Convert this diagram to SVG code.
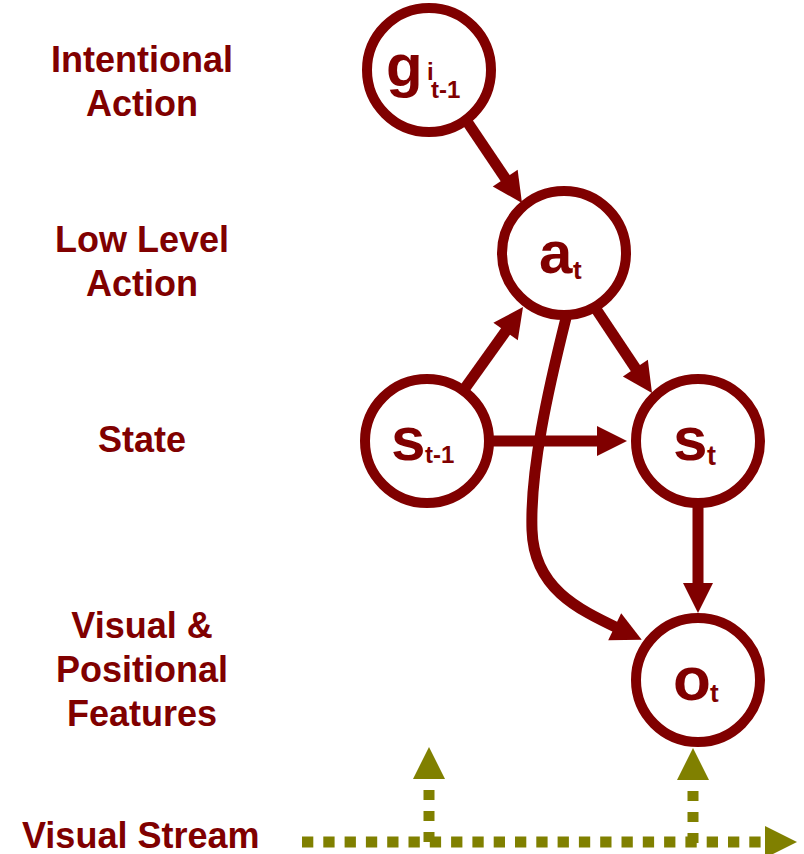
<svg xmlns="http://www.w3.org/2000/svg" width="804" height="854" viewBox="0 0 804 854">
  <defs>
    <style>
      .txt { font-family: "Liberation Sans", Arial, sans-serif; font-weight: bold; fill: #800000; }
      .lbl { font-size: 36px; text-anchor: middle; }
      .node circle { fill: #ffffff; stroke: #800000; stroke-width: 10; }
      .edge { fill: none; stroke: #800000; stroke-width: 11; marker-end: url(#head); }
      .stream { fill: none; stroke: #808000; stroke-width: 11; marker-end: url(#ohead); }
    </style>
    <!-- solid maroon arrowhead; refX sits 10px behind the base so the shaft ends inside it -->
    <marker id="head" markerUnits="userSpaceOnUse" markerWidth="32" markerHeight="32" refX="10" refY="15" orient="auto" overflow="visible">
      <path d="M0,0 L30,15 L0,30 Z" fill="#800000"/>
    </marker>
    <!-- olive arrowhead for the dotted stream lines -->
    <marker id="ohead" markerUnits="userSpaceOnUse" markerWidth="34" markerHeight="34" refX="0" refY="16" orient="auto" overflow="visible">
      <path d="M0,0 L32,16 L0,32 Z" fill="#808000"/>
    </marker>
  </defs>

  <rect width="804" height="854" fill="#ffffff"/>

  <!-- row labels -->
  <g id="labels" class="txt lbl">
    <text x="142" y="72">Intentional</text>
    <text x="142" y="116">Action</text>
    <text x="142" y="252">Low Level</text>
    <text x="142" y="296">Action</text>
    <text x="142" y="452">State</text>
    <text x="142" y="638">Visual &amp;</text>
    <text x="142" y="682">Positional</text>
    <text x="142" y="726">Features</text>
  </g>
  <text id="stream-label" class="txt" x="22" y="848" font-size="36">Visual Stream</text>

  <!-- dependencies between variables -->
  <g id="connectors">
    <path class="edge" d="M466,120 L510.8,186.4"/>
    <path class="edge" d="M463,391 L511.4,323.3"/>
    <path class="edge" d="M596,309 L640.9,376.4"/>
    <path class="edge" d="M489,441 L607,441"/>
    <path class="edge" d="M698,503 L698,593"/>
    <path class="edge" d="M566,318 C548,390 530,470 532,530 C534,590 580,610 623.7,631"/>
  </g>

  <!-- visual stream feeding the observations -->
  <g id="visual-stream">
    <path class="stream" d="M302,842 H765" stroke-dasharray="11.3 10"/>
    <path class="stream" d="M429,842 V779" stroke-dasharray="10 11"/>
    <path class="stream" d="M693,843 V780" stroke-dasharray="10 11"/>
  </g>

  <g id="node-g" class="node">
    <circle cx="429" cy="70" r="62"/>
    <text class="txt" x="386" y="86" font-size="60">g</text>
    <text class="txt" x="427" y="80" font-size="24">i</text>
    <text class="txt" x="431" y="98" font-size="24">t-1</text>
  </g>

  <g id="node-a" class="node">
    <circle cx="564" cy="253" r="62"/>
    <text class="txt" x="539" y="273" font-size="60">a</text>
    <text class="txt" x="573" y="279" font-size="26">t</text>
  </g>

  <g id="node-s-prev" class="node">
    <circle cx="427" cy="441" r="62"/>
    <text class="txt" x="391" y="460" font-size="62">s</text>
    <text class="txt" x="425" y="463" font-size="24">t-1</text>
  </g>

  <g id="node-s" class="node">
    <circle cx="698" cy="441" r="62"/>
    <text class="txt" x="673" y="460" font-size="62">s</text>
    <text class="txt" x="707" y="465" font-size="27">t</text>
  </g>

  <g id="node-o" class="node">
    <circle cx="698" cy="680" r="62"/>
    <text class="txt" x="673" y="700" font-size="62">o</text>
    <text class="txt" x="710" y="702" font-size="26">t</text>
  </g>
</svg>
